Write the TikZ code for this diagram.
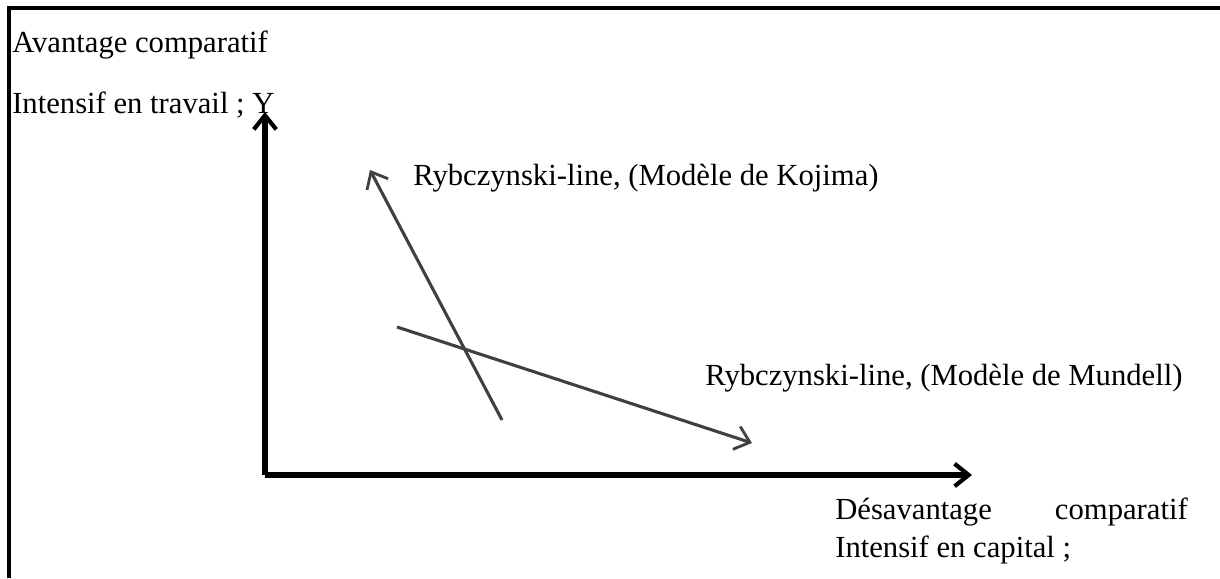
\documentclass[tikz,border=0pt]{standalone}
\usepackage{fontspec}
\setmainfont{Liberation Serif}
\usetikzlibrary{arrows.meta}

\begin{document}
\begin{tikzpicture}[x=0.025cm, y=-0.025cm,
    every node/.style={font=\fontsize{21.8}{26}\selectfont, inner sep=0pt},
    axis/.style={line width=3.6pt, -{Straight Barb[length=10pt, width=16pt, line width=3pt]}},
    rline/.style={line width=2.2pt, draw=black!75, -{Straight Barb[length=10pt, width=17pt, line width=2pt]}}]
    \useasboundingbox (0,0) rectangle (1220,578);
    % frame
    \draw[line width=3.4pt] (9,578) -- (9,8) -- (1220,8);
    % axes
    \coordinate (O) at (265,475);
    \coordinate (ytip) at (265,112);
    \coordinate (xtip) at (972,475);
    \draw[axis] (O) -- (ytip);
    \draw[axis] (O) -- (xtip);
    % lines
    \coordinate (k0) at (502,420);
    \coordinate (k1) at (370,170);
    \coordinate (m0) at (397,327);
    \coordinate (m1) at (752,443);
    \draw[rline] (k0) -- (k1);
    \draw[rline] (m0) -- (m1);
    % labels
    \node[anchor=west] (av) at (12,45) {Avantage comparatif};
    \node[anchor=west] (it) at (12,105) {Intensif en travail ; Y};
    \node[anchor=west] (kj) at (413,178) {Rybczynski-line, (Modèle de Kojima)};
    \node[anchor=west] (mu) at (705,378) {Rybczynski-line, (Modèle de Mundell)};
    \node[anchor=west] (ds) at (835,512) {Désavantage};
    \node[anchor=east] (cp) at (1188,512) {comparatif};
    \node[anchor=west] (ic) at (835,550) {Intensif en capital ;};
\end{tikzpicture}
\end{document}
